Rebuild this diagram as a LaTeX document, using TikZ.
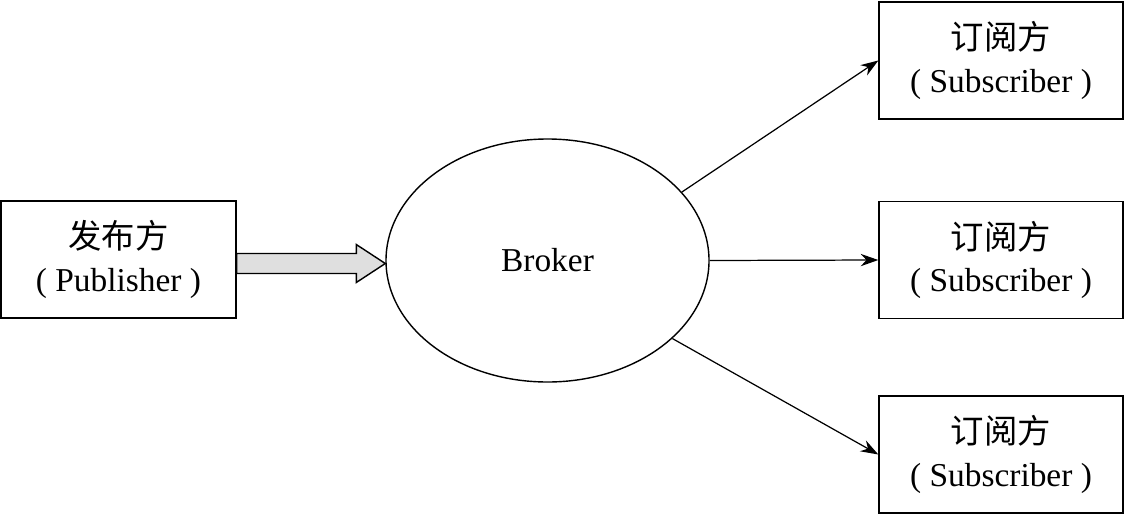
\documentclass[tikz,border=0pt]{standalone}
\usepackage{fontspec}
\setmainfont{Liberation Serif}
\newfontfamily\cjk{Noto Sans CJK SC}
\usetikzlibrary{arrows.meta,calc,shapes.geometric}

\begin{document}
\begin{tikzpicture}[
    box/.style={draw, line width=0.8pt, minimum height=2.34cm, inner sep=0pt, align=center,
        font=\fontsize{19}{24}\selectfont},
    link/.style={line width=0.7pt, -{Stealth[length=10pt,width=7pt]}},
    fat/.style={draw, line width=0.8pt, fill=gray!25}
]
\useasboundingbox (0,0) rectangle (22.5,10.32);

\node[box, minimum width=4.7cm] (pub) at (2.37,5.13) {{\cjk 发布方}\\(~Publisher~)};
\node[draw, line width=0.8pt, ellipse, minimum width=6.46cm, minimum height=4.86cm, inner sep=0pt,
    font=\fontsize{19}{24}\selectfont] (broker) at (10.95,5.11) {Broker};

\begin{scope}[name prefix = sub-]
    \node[box, minimum width=4.88cm] (A) at (20.02,9.11) {{\cjk 订阅方}\\(~Subscriber~)};
    \node[box, minimum width=4.88cm] (B) at (20.02,5.12) {{\cjk 订阅方}\\(~Subscriber~)};
    \node[box, minimum width=4.88cm] (C) at (20.02,1.23) {{\cjk 订阅方}\\(~Subscriber~)};
\end{scope}

\coordinate (tip) at ($(broker.west)+(0,-0.06)$);
\draw[fat] ($(pub.east |- tip)+(0,0.2)$) -- ($(tip)+(-0.58,0.2)$) -- ++(0,0.18)
    -- (tip) -- ($(tip)+(-0.58,-0.38)$) -- ++(0,0.18)
    -- ($(pub.east |- tip)+(0,-0.2)$) -- cycle;

\draw[link] (broker.27) -- (sub-A.west);
\draw[link] (broker.east) -- (sub-B.west);
\draw[link] (broker.-32) -- (sub-C.west);

\end{tikzpicture}
\end{document}
